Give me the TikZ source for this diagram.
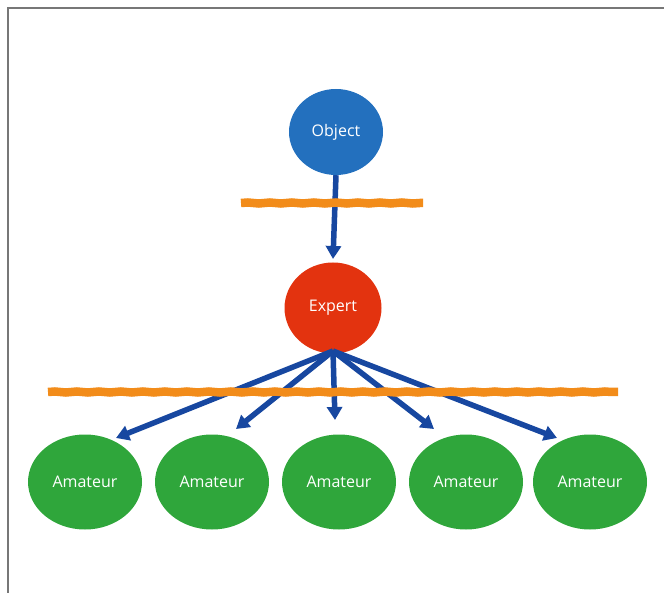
\documentclass[tikz,border=0pt]{standalone}
\usepackage{fontspec}
\setmainfont{Open Sans}
\usetikzlibrary{arrows.meta,decorations.pathmorphing,shapes.geometric}
\definecolor{objblue}{HTML}{2370BE}
\definecolor{expred}{HTML}{E3330F}
\definecolor{amgreen}{HTML}{2FA63B}
\definecolor{barorange}{HTML}{F28C1A}
\definecolor{arrblue}{HTML}{1747A0}
\definecolor{framegray}{HTML}{777777}
\begin{document}
\begin{tikzpicture}[x=1pt,y=-1pt,
  blob/.style={ellipse, inner sep=0pt, text=white, font=\fontsize{16}{18}\selectfont},
  bar/.style={draw=barorange, line width=8.5pt, decorate, decoration={snake, amplitude=0.5pt, segment length=22pt}},
  conn/.style={draw=arrblue, line width=5.5pt, -{Triangle[length=13pt,width=15pt]}}
]
\useasboundingbox (0,0) rectangle (664,593);
% frame (top and left only)
\draw[framegray, line width=2pt] (8,593) -- (8,8) -- (664,8);
% nodes
\node[blob, fill=objblue, minimum width=94, minimum height=86] (obj) at (336,132) {Object};
\node[blob, fill=expred, minimum width=97, minimum height=91] (exp) at (333,308) {Expert};
\foreach \i/\x in {1/85,2/212,3/339,4/466,5/590}{
  \node[blob, fill=amgreen, minimum width=114, minimum height=95] (am\i) at (\x,482) {Amateur};
}
% tips
\coordinate (t0) at (333,259);
\coordinate (s0) at (333,351);
\coordinate (t1) at (116,438);
\coordinate (t2) at (236,429);
\coordinate (t3) at (335,420);
\coordinate (t4) at (434,429);
\coordinate (t5) at (557,438);
% arrows
\draw[conn] (obj.south) -- (t0);
\foreach \i in {1,...,5}{\draw[conn] (s0) -- (t\i);}
% orange bars
\coordinate (b1l) at (241,203); \coordinate (b1r) at (423,203);
\coordinate (b2l) at (48,392); \coordinate (b2r) at (618,392);
\draw[bar] (b1l) -- (b1r);
\draw[bar] (b2l) -- (b2r);
\end{tikzpicture}
\end{document}
